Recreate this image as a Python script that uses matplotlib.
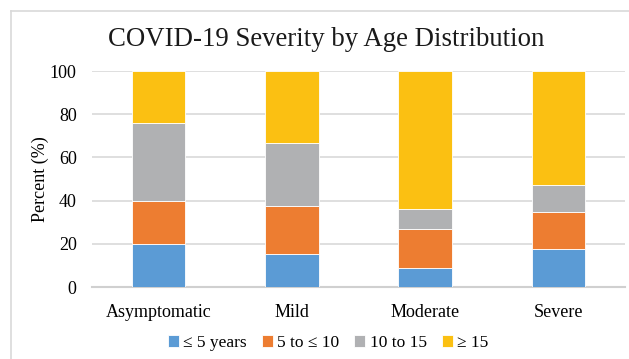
import matplotlib
matplotlib.use("Agg")
import matplotlib.pyplot as plt
from matplotlib.lines import Line2D
import numpy as np

categories = ["Asymptomatic", "Mild", "Moderate", "Severe"]
series_names = ["\u2264 5 years", "5 to \u2264 10", "10 to 15", "\u2265 15"]
under_5 = [20.0, 15.1, 8.7, 17.4]
from_5_to_10 = [20.0, 22.5, 18.2, 17.5]
from_10_to_15 = [36.0, 28.9, 9.1, 12.1]
over_15 = [24.0, 33.5, 64.0, 53.0]
y_ticks = [0, 20, 40, 60, 80, 100]

colors = ["#5B9BD5", "#ED7D31", "#B0B1B3", "#FBC012"]

plt.rcParams["font.family"] = ["Liberation Serif", "DejaVu Serif"]

fig = plt.figure(figsize=(6.29, 3.59), dpi=100)
ax = fig.add_axes([92 / 629, 1 - 287 / 359, 533 / 629, 216 / 359])

x = np.arange(len(categories))
bottom = np.zeros(len(categories))
for name, vals, c in zip(series_names,
                         [under_5, from_5_to_10, from_10_to_15, over_15],
                         colors):
    ax.bar(x, vals, width=0.4, bottom=bottom, color=c, edgecolor="white",
           linewidth=0.6, label=name, zorder=3)
    bottom += np.array(vals)

ax.set_xlim(-0.5, 3.5)
ax.set_ylim(0, 100)
ax.set_yticks(y_ticks)
ax.set_xticks(x)
ax.set_xticklabels(categories, fontsize=13)
ax.tick_params(axis="y", labelsize=13, length=0, pad=11)
ax.tick_params(axis="x", length=0, pad=12)
ax.yaxis.grid(True, color="#D9D9D9", linewidth=1.2, zorder=0)
ax.set_axisbelow(True)
for s in ["top", "right", "left"]:
    ax.spines[s].set_visible(False)
ax.spines["bottom"].set_color("#D0D0D0")
ax.spines["bottom"].set_linewidth(1.5)
ax.set_ylabel("Percent (%)", fontsize=13)
ax.yaxis.set_label_coords(-0.081, 0.5)

fig.text(326 / 629, 1 - 40 / 359, "COVID-19 Severity by Age Distribution",
         ha="center", va="center", fontsize=19.3, color="#1a1a1a")

ax.legend(loc="center", bbox_to_anchor=(328 / 629, 1 - 343 / 359),
          bbox_transform=fig.transFigure, ncol=4, frameon=False,
          fontsize=12.5, handlelength=0.65, handleheight=0.65,
          handletextpad=0.25, columnspacing=0.85)

# chart frame edges
fig.add_artist(Line2D([10.5 / 629, 10.5 / 629], [0, 1 - 10.5 / 359],
                      transform=fig.transFigure, color="#D9D9D9", linewidth=1.2))
fig.add_artist(Line2D([10.5 / 629, 1], [1 - 10.5 / 359, 1 - 10.5 / 359],
                      transform=fig.transFigure, color="#D9D9D9", linewidth=1.2))

fig.savefig("out.png", dpi=100)
